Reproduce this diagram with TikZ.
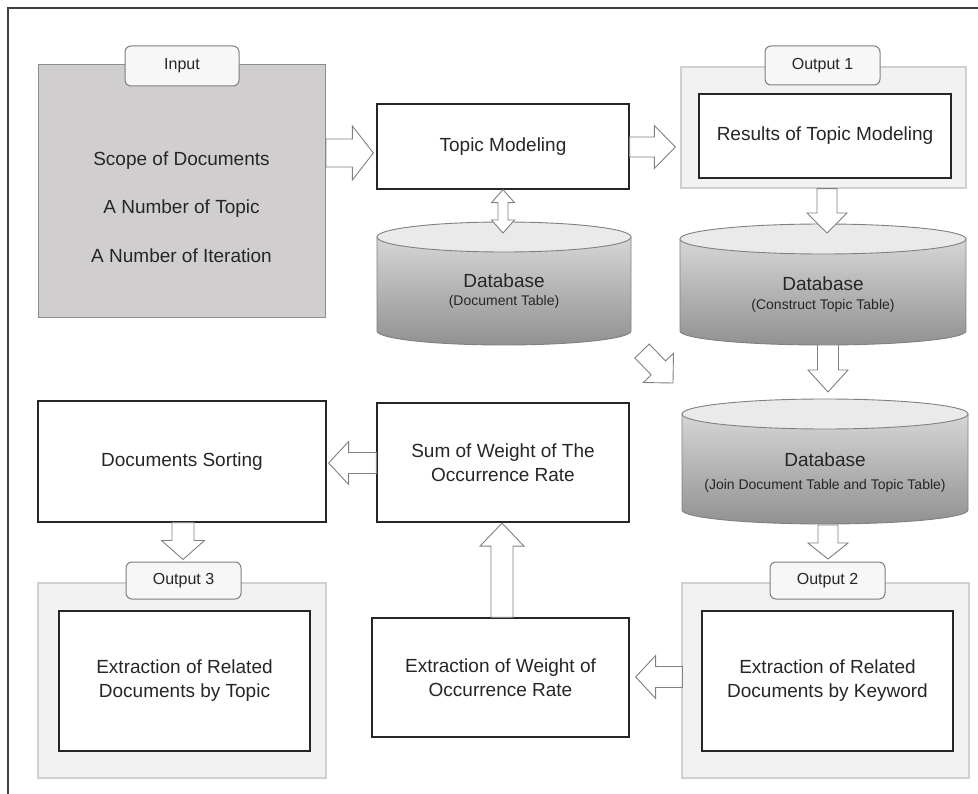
\documentclass[tikz,border=0pt]{standalone}
\usepackage{fontspec}
\setmainfont{Liberation Sans}
\usetikzlibrary{calc}
\definecolor{txt}{HTML}{262626}
\definecolor{agray}{HTML}{808080}
\definecolor{boxline}{HTML}{262626}
\definecolor{contline}{HTML}{D0D0D0}
\definecolor{contfill}{HTML}{F2F2F2}
\definecolor{tabfill}{HTML}{F7F7F7}
\definecolor{tabline}{HTML}{7F7F7F}
\definecolor{inputfill}{HTML}{D0CECE}
\definecolor{inputline}{HTML}{8C8C8C}
\definecolor{frameline}{HTML}{404040}
\definecolor{dbtopfill}{HTML}{EAEAEA}
\definecolor{dbhi}{HTML}{D6D6D6}
\definecolor{dblo}{HTML}{919191}
\newcommand\mainf{\fontsize{19}{24}\selectfont}
\newcommand\tabf{\fontsize{16}{19}\selectfont}
\newcommand\subf{\fontsize{14}{16}\selectfont}
\tikzset{
  box/.style={draw=boxline, line width=1.3pt, fill=white, text=txt, font=\mainf, align=center, inner sep=0pt},
  cont/.style={draw=contline, line width=1.3pt, fill=contfill, inner sep=0pt},
  tabbox/.style={draw=tabline, line width=1pt, fill=tabfill, rounded corners=6pt, font=\tabf, text=txt, inner sep=0pt},
  barrow/.style={draw=agray, line width=0.9pt, fill=white, line join=miter},
  dbbody/.style={draw=agray, line width=0.9pt, top color=dbhi, bottom color=dblo},
  dbtop/.style={draw=agray, line width=0.9pt, fill=dbtopfill},
  lbl/.style={text=txt, inner sep=0pt, anchor=base},
}
% block arrow: tail, tip, body half width, head half width, head length
\newcommand\blockarrow[5]{%
  \coordinate (ba-h) at ($(#2)!#5!(#1)$);
  \draw[barrow] ($(#1)!#3!90:(#2)$) -- ($(ba-h)!#3!90:(#2)$) -- ($(ba-h)!#4!90:(#2)$) -- (#2)
    -- ($(ba-h)!#4!-90:(#2)$) -- ($(ba-h)!#3!-90:(#2)$) -- ($(#1)!#3!-90:(#2)$) -- cycle;
}
% double block arrow
\newcommand\dblblockarrow[5]{%
  \coordinate (da-h1) at ($(#1)!#5!(#2)$);
  \coordinate (da-h2) at ($(#2)!#5!(#1)$);
  \draw[barrow] (#1) -- ($(da-h1)!#4!90:(#2)$) -- ($(da-h1)!#3!90:(#2)$) -- ($(da-h2)!#3!90:(#2)$)
    -- ($(da-h2)!#4!90:(#2)$) -- (#2) -- ($(da-h2)!#4!-90:(#2)$) -- ($(da-h2)!#3!-90:(#2)$)
    -- ($(da-h1)!#3!-90:(#2)$) -- ($(da-h1)!#4!-90:(#2)$) -- cycle;
}
% cylinder: name, cx, rx, top cy, bottom cy
\newcommand\dbcyl[5]{%
  \coordinate (#1top) at (#2,#4);
  \coordinate (#1bot) at (#2,#5);
  \path[dbbody] ($(#1top)+(-#3,0)$) -- ($(#1bot)+(-#3,0)$)
    arc[start angle=180, end angle=360, x radius=#3pt, y radius=14pt] -- ($(#1top)+(#3,0)$) -- cycle;
  \draw[dbtop] (#1top) ellipse[x radius=#3pt, y radius=15pt];
}
\begin{document}
\begin{tikzpicture}[x=1pt, y=-1pt]
\useasboundingbox (0,0) rectangle (978,794);
\draw[frameline, line width=1.6pt] (8,794) -- (8,8) -- (978,8);

% containers
\node[draw=inputline, line width=1pt, fill=inputfill, minimum width=287, minimum height=253, inner sep=0pt] (input) at (181.5,191.5) {};
\node[cont, minimum width=285, minimum height=121] (out1) at (823.5,127.5) {};
\node[cont, minimum width=288, minimum height=195] (out3) at (182,680.5) {};
\node[cont, minimum width=287, minimum height=195] (out2) at (825.5,680.5) {};

% tabs
\node[tabbox, minimum width=114, minimum height=40] (inputtab) at (182,66) {Input};
\node[tabbox, minimum width=115, minimum height=39] (out1tab) at (822.5,65.5) {Output 1};
\node[tabbox, minimum width=115, minimum height=37] (out3tab) at (183.5,580.5) {Output 3};
\node[tabbox, minimum width=115, minimum height=37] (out2tab) at (827.5,580.5) {Output 2};

% input texts
\node[lbl, font=\mainf] (in1) at (181.5,166) {Scope of Documents};
\node[lbl, font=\mainf] (in2) at (181.5,214) {A Number of Topic};
\node[lbl, font=\mainf] (in3) at (181.5,263) {A Number of Iteration};

% boxes
\node[box, minimum width=252, minimum height=85] (topic) at (503,146.5) {Topic Modeling};
\node[box, minimum width=252, minimum height=84] (results) at (825,136) {Results of Topic Modeling};
\node[box, minimum width=252, minimum height=119] (sum) at (503,462.5) {Sum of Weight of The\\Occurrence Rate};
\node[box, minimum width=288, minimum height=121] (docsort) at (182,461.5) {Documents Sorting};
\node[box, minimum width=251, minimum height=140] (rel3) at (184.5,681) {Extraction of Related\\Documents by Topic};
\node[box, minimum width=251, minimum height=140] (rel2) at (827.5,681) {Extraction of Related\\Documents by Keyword};
\node[box, minimum width=257, minimum height=119] (extw) at (500.5,677.5) {Extraction of Weight of\\Occurrence Rate};

% databases
\dbcyl{db1}{504}{127}{237}{331}
\node[lbl, font=\mainf] (db1t) at (504,288) {Database};
\node[lbl, font=\subf] (db1s) at (504,306) {(Document Table)};
\dbcyl{db2}{823}{143}{239}{331}
\node[lbl, font=\mainf] (db2t) at (823,291) {Database};
\node[lbl, font=\subf] (db2s) at (823,310) {(Construct Topic Table)};
\dbcyl{db3}{825}{143}{414}{510}
\node[lbl, font=\mainf] (db3t) at (825,467) {Database};
\node[lbl, font=\subf] (db3s) at (825,489) {(Join Document Table and Topic Table)};

% arrows
\coordinate (a1s) at ($(input.east)+(0.5,-38.5)$);
\coordinate (a1e) at ($(topic.west)+(-3,6.5)$);
\blockarrow{a1s}{a1e}{14pt}{27pt}{21pt}
\coordinate (a2s) at ($(topic.east)+(0,0.5)$);
\coordinate (a2e) at ($(out1.west)+(-5,19.5)$);
\blockarrow{a2s}{a2e}{10pt}{21.5pt}{21pt}
\coordinate (a3e) at ($(db1top)+(-1,-4)$);
\dblblockarrow{topic.south}{a3e}{5pt}{11.5pt}{13pt}
\coordinate (a4s) at ($(out1.south)+(3.5,0)$);
\coordinate (a4e) at ($(db2top)+(4,-6)$);
\blockarrow{a4s}{a4e}{10pt}{20pt}{20pt}
\coordinate (a5s) at ($(db2bot)+(5,14)$);
\coordinate (a5e) at ($(db3top)+(3,-22)$);
\blockarrow{a5s}{a5e}{10.5pt}{20pt}{22pt}
\coordinate (a6s) at ($(db1bot)+(138,20)$);
\coordinate (a6e) at ($(db3top)+(-152,-31)$);
\blockarrow{a6s}{a6e}{10pt}{21pt}{21pt}
\coordinate (a7s) at ($(db3bot)+(3,15)$);
\coordinate (a7e) at ($(out2tab.north)+(0.5,-2.5)$);
\blockarrow{a7s}{a7e}{10pt}{20pt}{16pt}
\coordinate (a8s) at ($(out2.west)+(1,-3.5)$);
\coordinate (a8e) at ($(extw.east)+(6,-0.5)$);
\blockarrow{a8s}{a8e}{10.5pt}{21.5pt}{20pt}
\coordinate (a9s) at ($(extw.north)+(1.5,0)$);
\coordinate (a9e) at ($(sum.south)+(-1,0.5)$);
\blockarrow{a9s}{a9e}{11pt}{22pt}{23pt}
\coordinate (a10s) at ($(sum.west)+(0,0.5)$);
\coordinate (a10e) at ($(docsort.east)+(2,1.5)$);
\blockarrow{a10s}{a10e}{10.5pt}{21.5pt}{20pt}
\coordinate (a11s) at ($(docsort.south)+(1,0)$);
\coordinate (a11e) at ($(out3tab.north)+(-0.5,-2)$);
\blockarrow{a11s}{a11e}{11pt}{21.5pt}{19pt}
\end{tikzpicture}
\end{document}
